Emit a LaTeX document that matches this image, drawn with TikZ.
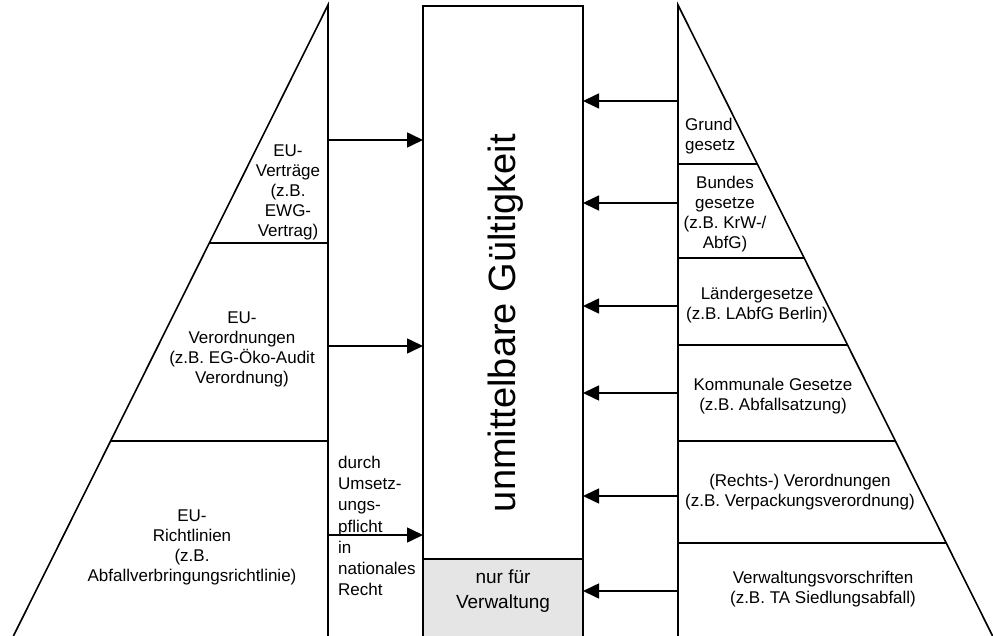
\documentclass[tikz,border=0pt]{standalone}
\usepackage{fontspec}
\setmainfont{Liberation Sans}
\usetikzlibrary{arrows.meta}
\definecolor{panel}{gray}{0.9}
\begin{document}
\begin{tikzpicture}[x=1pt,y=-1pt,
  edge/.style={line width=1.6pt,line join=miter},
  arr/.style={line width=1.6pt,-{Triangle[length=16pt,width=15pt]}},
  lbl/.style={align=center,font=\fontsize{17}{20}\selectfont,inner sep=0pt},
  lbll/.style={align=left,font=\fontsize{17}{20}\selectfont,inner sep=0pt,anchor=west},
]
\useasboundingbox (0,0) rectangle (993,636);

% ---------- left pyramid (EU law) ----------
\coordinate (LA) at (328,5);
\coordinate (LB) at (11.4,640);
\coordinate (LC) at (328,640);
\draw[edge] (LB) -- (LA) -- (LC);
\coordinate (L1a) at (209.4,243); \coordinate (L1b) at (328,243);
\coordinate (L2a) at (110.7,441); \coordinate (L2b) at (328,441);
\draw[edge] (L1a) -- (L1b);
\draw[edge] (L2a) -- (L2b);

\node[lbl] (vertr) at (288,192) {EU-\\Verträge\\(z.B.\\EWG-\\Vertrag)};
\node[lbl] (verord) at (242,349) {EU-\\Verordnungen\\(z.B. EG-Öko-Audit\\Verordnung)};
\node[lbl] (richtl) at (192,547) {EU-\\Richtlinien\\(z.B.\\Abfallverbringungsrichtlinie)};
\node[lbll,font=\fontsize{17}{21.3}\selectfont] (umsetz) at (338,526)
  {durch\\Umsetz-\\ungs-\\pflicht\\in\\nationales\\Recht};

% ---------- centre column ----------
\coordinate (BoxNW) at (423,6);
\coordinate (BoxSE) at (583,559);
\fill[panel] (423,559) rectangle (583,645);
\draw[edge] (423,645) -- (BoxNW) -- (583,6) -- (583,645);
\draw[edge] (423,559) -- (583,559);
\node[rotate=90,anchor=base,font=\fontsize{38}{40}\selectfont,inner sep=0pt] (valid) at (515,323)
  {unmittelbare Gültigkeit};
\node[align=center,font=\fontsize{19}{25}\selectfont,inner sep=0pt] (admin) at (503,591)
  {nur für\\Verwaltung};

% arrows from the EU side
\foreach \n/\y in {a/140,b/346,c/535}{
  \coordinate (ls\n) at (328,\y);
  \coordinate (lt\n) at (423,\y);
  \draw[arr] (ls\n) -- (lt\n);
}

% ---------- right pyramid (national law) ----------
\coordinate (RA) at (678,5);
\coordinate (RB) at (994.6,640);
\coordinate (RC) at (678,640);
\draw[edge] (RB) -- (RA) -- (RC);
\foreach \n/\y/\x in {1/164/757.3,2/258/804.1,3/345/847.5,4/441/895.3,5/543/946.2}{
  \coordinate (R\n a) at (678,\y);
  \coordinate (R\n b) at (\x,\y);
  \draw[edge] (R\n a) -- (R\n b);
}

\node[lbll] (grund) at (685,136) {Grund\\gesetz};
\node[lbl] (bund) at (725,214) {Bundes\\gesetze\\(z.B. KrW-/\\AbfG)};
\node[lbl] (land) at (757,305) {Ländergesetze\\(z.B. LAbfG Berlin)};
\node[lbl] (komm) at (773,396) {Kommunale Gesetze\\(z.B. Abfallsatzung)};
\node[lbl] (vo) at (800,492) {(Rechts-) Verordnungen\\(z.B. Verpackungsverordnung)};
\node[lbl] (vwv) at (823,589) {Verwaltungsvorschriften\\(z.B. TA Siedlungsabfall)};

% arrows from the national side
\foreach \n/\y in {a/101,b/203,c/306,d/393,e/496,f/591}{
  \coordinate (rs\n) at (678,\y);
  \coordinate (rt\n) at (583,\y);
  \draw[arr] (rs\n) -- (rt\n);
}
\end{tikzpicture}
\end{document}
